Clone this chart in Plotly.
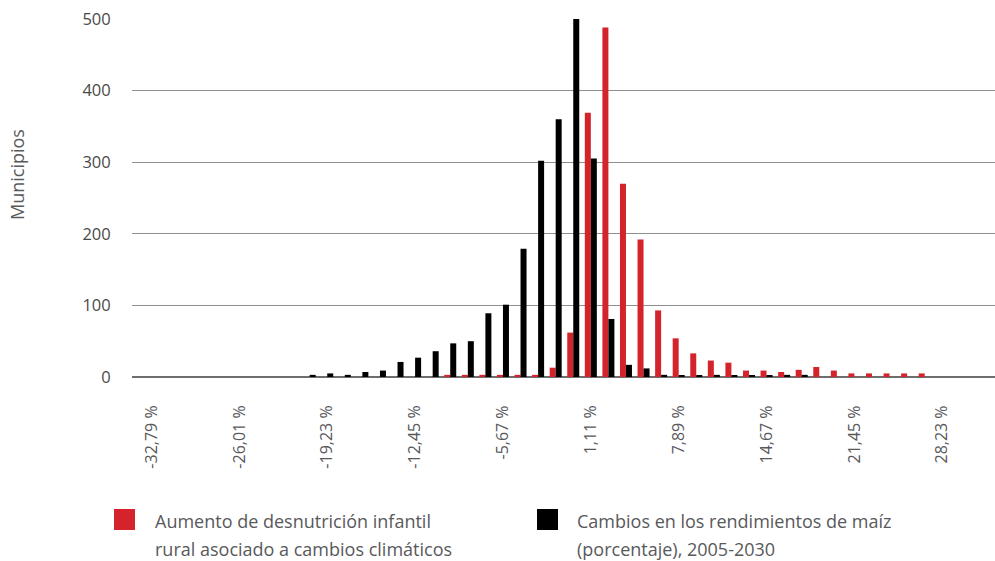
import plotly.graph_objects as go

# ---- data ----
bins = list(range(48))  # bin index; bin k = -32.79 % + k * 1.356 %
tick_positions = [0, 5, 10, 15, 20, 25, 30, 35, 40, 45]
tick_labels = ["-32,79 %", "-26,01 %", "-19,23 %", "-12,45 %", "-5,67 %",
               "1,11 %", "7,89 %", "14,67 %", "21,45 %", "28,23 %"]

desnutricion = [0, 0, 0, 0, 0, 0, 0, 0, 0, 0,
                0, 0, 0, 0, 0, 0, 0, 3, 3, 3,
                3, 3, 3, 13, 62, 369, 488, 270, 192, 93,
                54, 33, 23, 20, 9, 9, 7, 10, 14, 9,
                5, 5, 5, 5, 5, 0, 0, 0]
maiz = [0, 0, 0, 0, 0, 0, 0, 0, 0, 3,
        5, 3, 7, 9, 21, 27, 36, 47, 50, 89,
        101, 179, 302, 360, 500, 305, 81, 17, 12, 3,
        2, 2, 3, 2, 2, 2, 3, 3, 0, 0,
        0, 0, 0, 0, 0, 0, 0, 0]

name_red = "Aumento de desnutrición infantil rural asociado a cambios climáticos"
name_black = "Cambios en los rendimientos de maíz (porcentaje), 2005-2030"

RED = "#d5232b"
BLACK = "#000000"
GRAY = "#58595b"
TICKGRAY = "#4a4a4a"
FONT = "Open Sans"

# plot area in pixels
L, R, T, B = 132, 995, 19, 377
W, H = 995, 561


def px_x(x):
    return (x - L) / (R - L)


def px_y(y):
    return (B - y) / (B - T)


fig = go.Figure()
fig.add_trace(go.Bar(x=bins, y=desnutricion, name=name_red, marker_color=RED,
                     marker_line_width=0))
fig.add_trace(go.Bar(x=bins, y=maiz, name=name_black, marker_color=BLACK,
                     marker_line_width=0))

fig.update_layout(
    width=W, height=H,
    margin=dict(l=L, r=W - R, t=T, b=H - B, pad=0),
    paper_bgcolor="white", plot_bgcolor="white",
    barmode="group", bargap=0.317, bargroupgap=0,
    showlegend=False,
    font=dict(family=FONT, color=GRAY),
)

fig.update_xaxes(
    range=[-1.11, 48.0],
    tickmode="array", tickvals=tick_positions, ticktext=tick_labels,
    tickangle=-90, ticks="outside", ticklen=21, tickcolor="rgba(0,0,0,0)",
    tickfont=dict(family=FONT, size=16, color=GRAY),
    showgrid=False, zeroline=False, showline=False,
)
fig.update_yaxes(
    range=[0, 500],
    tickvals=[0, 100, 200, 300, 400, 500],
    ticks="outside", ticklen=17, tickcolor="rgba(0,0,0,0)",
    tickfont=dict(family=FONT, size=16.5, color=TICKGRAY),
    showgrid=True, gridcolor="#8f8f8f", gridwidth=1.2,
    zeroline=True, zerolinecolor="#6e6e6e", zerolinewidth=2,
    showline=False,
)

annotations = [
    dict(text="Municipios", xref="paper", yref="paper",
         x=px_x(17), y=px_y(175), xanchor="center", yanchor="middle",
         textangle=-90, showarrow=False,
         font=dict(family=FONT, size=18, color=GRAY)),
]
legend_items = [
    (114, RED, 153, ["Aumento de desnutrición infantil",
                     "rural asociado a cambios climáticos"]),
    (537, BLACK, 575, ["Cambios en los rendimientos de maíz",
                       "(porcentaje), 2005-2030"]),
]
shapes = []
for sx, col, tx, lines in legend_items:
    shapes.append(dict(type="rect", xref="paper", yref="paper",
                       x0=px_x(sx), x1=px_x(sx + 21), y0=px_y(509), y1=px_y(530),
                       fillcolor=col, line_width=0))
    for i, line in enumerate(lines):
        annotations.append(dict(text=line, xref="paper", yref="paper",
                                x=px_x(tx), y=px_y(521 + 27.5 * i),
                                xanchor="left", yanchor="middle", showarrow=False,
                                font=dict(family=FONT, size=18, color=GRAY)))

fig.update_layout(annotations=annotations, shapes=shapes)

fig.write_html("out.html",
               config={"displayModeBar": False},
               post_script="document.body.style.margin='0';"
                           "document.body.style.overflow='hidden';")
